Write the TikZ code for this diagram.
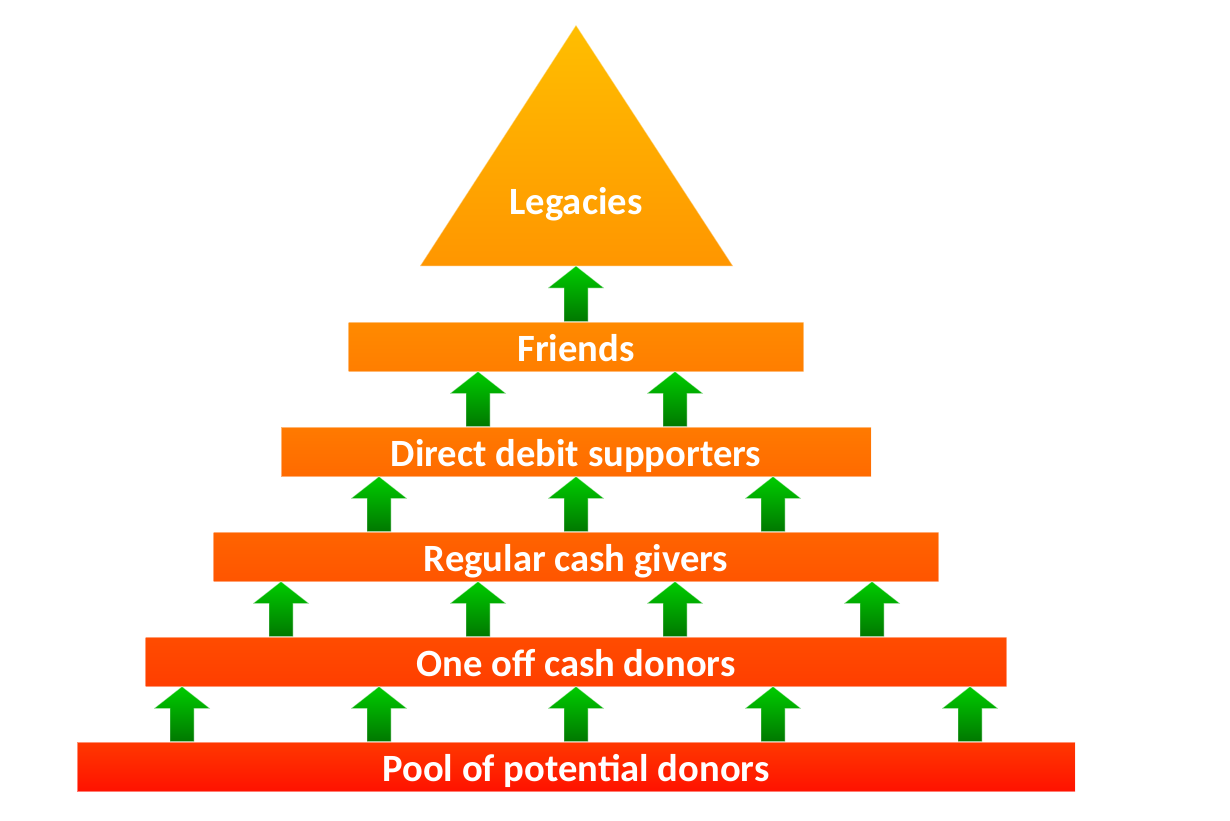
\documentclass[tikz,border=0pt]{standalone}
\usepackage{fontspec}
\setmainfont{Carlito}
\usetikzlibrary{calc}
\definecolor{tritop}{HTML}{FFBE00}
\definecolor{tribot}{HTML}{FF9600}
\definecolor{frtop}{HTML}{FF8A00}
\definecolor{frbot}{HTML}{FF7E00}
\definecolor{ddtop}{HTML}{FF7A00}
\definecolor{ddbot}{HTML}{FF6A00}
\definecolor{rgtop}{HTML}{FF6400}
\definecolor{rgbot}{HTML}{FF5500}
\definecolor{ootop}{HTML}{FF4C00}
\definecolor{oobot}{HTML}{FF3E00}
\definecolor{pltop}{HTML}{FF3800}
\definecolor{plbot}{HTML}{FF1200}
\definecolor{grtop}{HTML}{00CC00}
\definecolor{grbot}{HTML}{007800}
\tikzset{
  label text/.style={text=white, font=\bfseries\fontsize{38.6}{40}\selectfont, text height=29.5pt, text depth=0pt, inner sep=0pt},
  bar/.style={label text, rectangle, minimum height=49pt, draw=white, draw opacity=0.45, line width=1pt},
  arrowsty/.style={top color=grtop, bottom color=grbot, draw=white, draw opacity=0.45, line width=0.8pt}
}
\newcommand\grarrow[3]{%
  \path[arrowsty] let \p1=(#2), \p2=(#3) in
    (#1pt-12pt,\y1) -- (#1pt+12pt,\y1) -- (#1pt+12pt,\y2-22pt) -- (#1pt+28pt,\y2-22pt)
    -- (#1pt,\y2) -- (#1pt-28pt,\y2-22pt) -- (#1pt-12pt,\y2-22pt) -- cycle;}
\begin{document}
\begin{tikzpicture}[x=1pt,y=-1pt]
\useasboundingbox (0,0) rectangle (1230,820);
% triangle
\coordinate (apex) at (576,25);
\coordinate (tribase) at (576,266);
\path[top color=tritop, bottom color=tribot, draw=white, draw opacity=0.45, line width=1pt]
  (apex) -- (733,266) -- (420,266) -- cycle;
\node[label text] (legacies) at (576,199.5) {Legacies};
% bars
\node[bar, minimum width=455pt, top color=frtop, bottom color=frbot] (friends) at (576,346.5) {Friends};
\node[bar, minimum width=590pt, top color=ddtop, bottom color=ddbot] (direct) at (576,451.5) {Direct debit supporters};
\node[bar, minimum width=725pt, top color=rgtop, bottom color=rgbot] (regular) at (576,556.5) {Regular cash givers};
\node[bar, minimum width=861pt, top color=ootop, bottom color=oobot] (oneoff) at (576,661.5) {One off cash donors};
\node[bar, minimum width=998pt, top color=pltop, bottom color=plbot] (pool) at (576,766.5) {Pool of potential donors};
% arrows
\foreach \ax in {182,379,576,773,970} {\grarrow{\ax}{pool.north}{oneoff.south}}
\foreach \ax in {281,478,675,872} {\grarrow{\ax}{oneoff.north}{regular.south}}
\foreach \ax in {379,576,773} {\grarrow{\ax}{regular.north}{direct.south}}
\foreach \ax in {478,675} {\grarrow{\ax}{direct.north}{friends.south}}
\grarrow{576}{friends.north}{tribase}
\end{tikzpicture}
\end{document}
